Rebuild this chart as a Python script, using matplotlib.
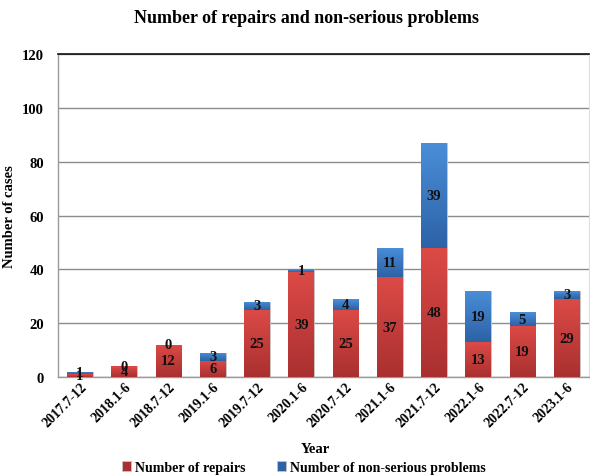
import matplotlib
matplotlib.use("Agg")
import matplotlib.pyplot as plt
import numpy as np
from matplotlib.colors import LinearSegmentedColormap

plt.rcParams['font.family'] = ['Liberation Serif', 'DejaVu Serif']
plt.rcParams['font.weight'] = 'bold'

periods = ["2017.7-12", "2018.1-6", "2018.7-12", "2019.1-6", "2019.7-12", "2020.1-6",
           "2020.7-12", "2021.1-6", "2021.7-12", "2022.1-6", "2022.7-12", "2023.1-6"]
repairs = [1, 4, 12, 6, 25, 39, 25, 37, 48, 13, 19, 29]
non_serious = [1, 0, 0, 3, 3, 1, 4, 11, 39, 19, 5, 3]

red_top, red_bot = "#dc4a46", "#a93030"
blue_top, blue_bot = "#4a8ed8", "#2d62a6"

fig = plt.figure(figsize=(5.9, 4.77), dpi=100)
ax = fig.add_axes([0.098, 0.2075, 0.9, 0.677])

x = np.arange(len(periods))
w = 0.58
b1 = ax.bar(x, repairs, w, color=red_bot, edgecolor="#c9c9c9", linewidth=0.6,
            label="Number of repairs", zorder=3)
b2 = ax.bar(x, non_serious, w, bottom=repairs, color=blue_bot, edgecolor="#c9c9c9",
            linewidth=0.6, label="Number of non-serious problems", zorder=3)

# vertical shading on each bar segment
def shade(bars, c_top, c_bot):
    cmap = LinearSegmentedColormap.from_list("g", [c_bot, c_top])
    grad = np.linspace(0, 1, 64).reshape(-1, 1)
    for r in bars:
        h = r.get_height()
        if h <= 0:
            continue
        x0, y0 = r.get_x(), r.get_y()
        im = ax.imshow(grad, cmap=cmap, aspect="auto", origin="lower",
                       extent=(x0, x0 + r.get_width(), y0, y0 + h), zorder=3.5)
        im.set_clip_path(r)
        ax.fill_between([x0, x0 + r.get_width()], y0 + h - min(0.6, h * 0.3), y0 + h,
                        color=c_top, alpha=0.6, lw=0, zorder=3.6)

shade(b1, red_top, red_bot)
shade(b2, blue_top, blue_bot)
ax.set_xlim(-0.5, len(periods) - 0.5)
ax.set_ylim(0, 120)

for i in range(len(periods)):
    ax.text(x[i], repairs[i] / 2, str(repairs[i]), ha="center", va="center",
            fontsize=10.5, fontweight="bold", color="#111111", zorder=5)
    ax.text(x[i], repairs[i] + non_serious[i] / 2, str(non_serious[i]),
            ha="center", va="center",
            fontsize=10.5, fontweight="bold", color="#111111", zorder=5)

ax.set_yticks(np.arange(0, 121, 20))
ax.yaxis.grid(True, color="#8c8c8c", linewidth=1.0, zorder=0)
ax.set_axisbelow(True)
ax.tick_params(axis="y", length=0, labelsize=10.5, pad=10)
ax.tick_params(axis="x", length=0, labelsize=10, pad=2)
ax.set_xticks(x)
ax.set_xticklabels(periods, rotation=45, ha="right", rotation_mode="anchor")

for s in ["left", "bottom"]:
    ax.spines[s].set_color("#9a9a9a")
    ax.spines[s].set_linewidth(1.0)
ax.spines["right"].set_color("#dddddd")
ax.spines["top"].set_color("#111111")
ax.spines["top"].set_linewidth(1.2)

ax.set_ylabel("Number of cases", fontsize=10.5, fontweight="bold", labelpad=4)
ax.set_xlabel("Year", fontsize=10.5, fontweight="bold")
ax.xaxis.set_label_coords(0.485, -0.20)

fig.text(0.52, 0.962, "Number of repairs and non-serious problems", ha="center", va="center",
         fontsize=13, fontweight="bold")

handles = [plt.Rectangle((0, 0), 1, 1, color=red_bot, ec="#c9c9c9", lw=0.5),
           plt.Rectangle((0, 0), 1, 1, color=blue_bot, ec="#c9c9c9", lw=0.5)]
fig.legend(handles, ["Number of repairs", "Number of non-serious problems"],
           loc="center", bbox_to_anchor=(0.515, 0.018), ncol=2, frameon=False,
           fontsize=10, handlelength=0.7, handleheight=0.7, handletextpad=0.3,
           columnspacing=2.2)

fig.savefig("out.png", dpi=100)
